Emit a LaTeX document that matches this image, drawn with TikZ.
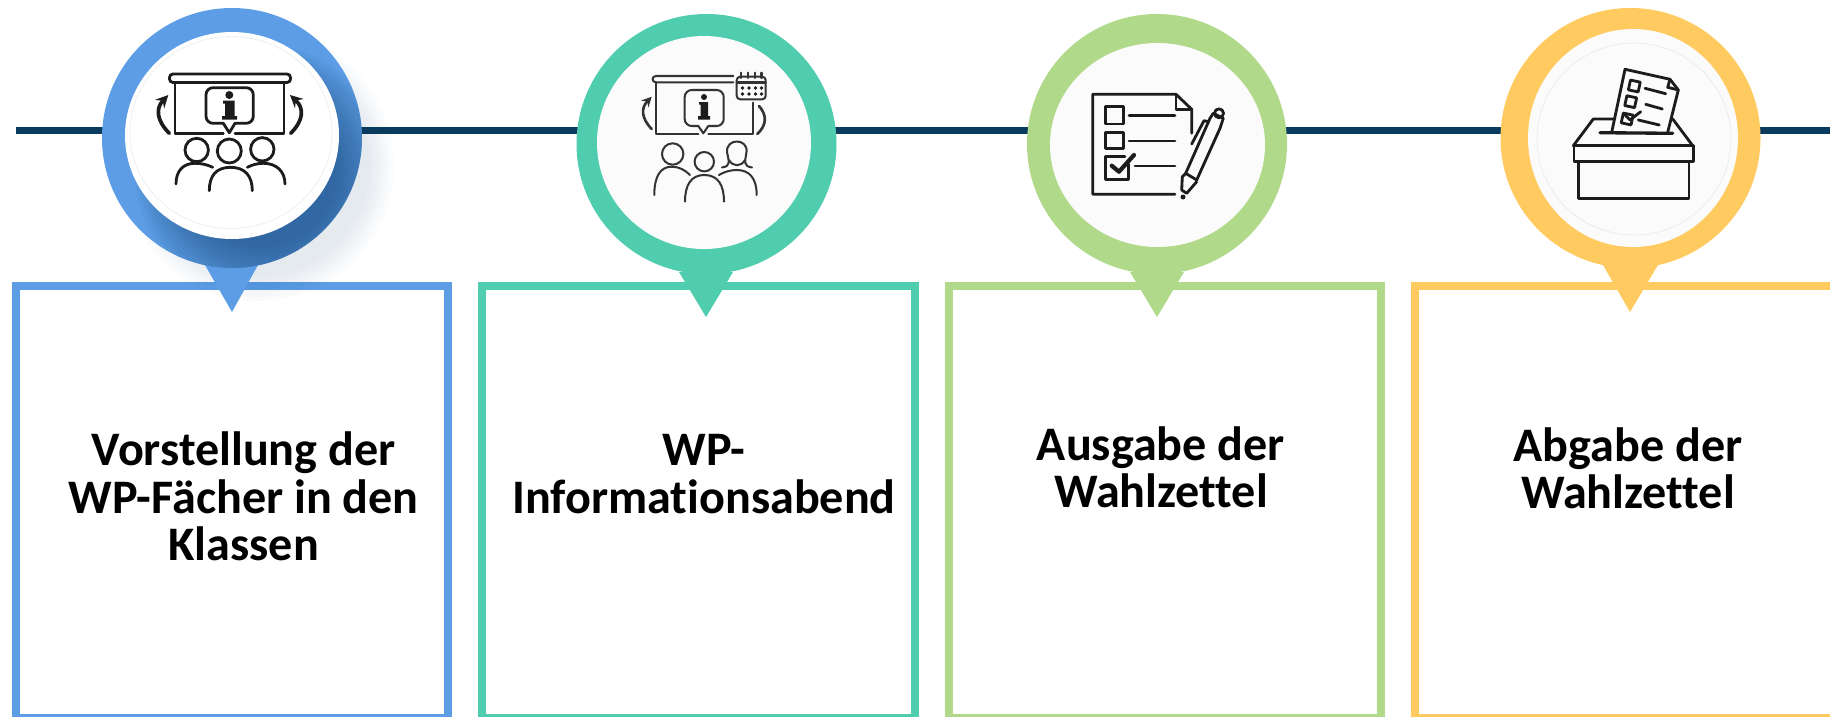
\documentclass[tikz,border=0pt]{standalone}
\usepackage{fontspec}
\setmainfont[Ligatures=NoCommon]{Carlito}
\definecolor{pinblue}{HTML}{5C9DE5}
\definecolor{pinteal}{HTML}{4FCDAE}
\definecolor{pingreen}{HTML}{B1D98A}
\definecolor{pinyellow}{HTML}{FFCB60}
\definecolor{linenavy}{HTML}{0A3A5E}
\definecolor{shadowblue}{HTML}{123F6E}
\definecolor{iconink}{HTML}{1C1C1C}
\definecolor{disc}{HTML}{FBFBFB}

\begin{document}
\begin{tikzpicture}[x=0.02cm,y=-0.02cm,
    framebox/.style={line width=4.5pt,fill=white},
    steplabel/.style={font=\fontsize{27.4}{27}\selectfont\bfseries,align=center,inner sep=0pt,text=black},
    iconline/.style={draw=iconink,line width=1.6pt,line cap=round,line join=round},
    iconthin/.style={draw=iconink!90,line width=1.15pt,line cap=round,line join=round}]
    \clip (0,0) rectangle (1830,717);

    % time line
    \draw[linenavy,line width=4pt] (16,130.5) -- (1830,130.5);

    % boxes
    \draw[framebox,draw=pinblue] (16,286) rectangle (448,718);
    \draw[framebox,draw=pinteal] (482,286) rectangle (915,718);
    \draw[framebox,draw=pingreen] (949,286) rectangle (1381,718);
    \draw[framebox,draw=pinyellow] (1415,286) rectangle (1850,718);

    % soft shadow of the first pin
    \foreach \r in {112,116,...,136}
        \fill[shadowblue,opacity=0.016] (258,165) circle [radius=\r];

    % pins
    \fill[pinblue] (232,138) circle [radius=130];
    \fill[pinblue] (205,265) -- (232,312) -- (258,265) -- cycle;
    \fill[pinteal] (706.5,144) circle [radius=130];
    \fill[pinteal] (679,272) -- (706,317) -- (733,272) -- cycle;
    \fill[pingreen] (1157,144) circle [radius=130];
    \fill[pingreen] (1130,272) -- (1157,317) -- (1184,272) -- cycle;
    \fill[pinyellow] (1630.5,138) circle [radius=130];
    \fill[pinyellow] (1603,265) -- (1630,312) -- (1658,265) -- cycle;

    % shadow inside the first pin
    \begin{scope}
        \clip (232,138) circle [radius=130];
        \foreach \r in {75,79,...,127}
            \fill[shadowblue,opacity=0.05] (262,172) circle [radius=\r];
    \end{scope}

    % discs
    \fill[white] (232,135.5) ellipse [x radius=107,y radius=103.5];
    \draw[black!6,line width=0.5pt] (231,132.5) ellipse [x radius=101,y radius=96];
    \fill[disc] (704,142.5) ellipse [x radius=107,y radius=106.5];
    \fill[disc] (1157.5,145) ellipse [x radius=107.5,y radius=102];
    \fill[disc] (1633,138) ellipse [x radius=105,y radius=109];
    \draw[black!7,line width=0.5pt] (1634,139) ellipse [x radius=97,y radius=96];

    % icon: presentation
    \draw[iconline,rounded corners=2pt] (169.5,74) rectangle (290.5,82.5);
    \draw[iconline] (223.3,133.3) -- (175,133.3) -- (175,82.5);
    \draw[iconline] (235,133.3) -- (284,133.3) -- (284,82.5);
    \draw[iconline,rounded corners=4pt] (223.3,123.3) -- (206,123.3) -- (206,87.7) -- (253.3,87.7) -- (253.3,123.3) -- (235,123.3);
    \draw[iconline] (223.3,123.3) -- (229.3,132.7) -- (235,123.3);
    \fill[iconink] (229.3,95) circle [radius=4];
    \fill[iconink] (223,100.5) -- (234.5,100.5) -- (234.5,116) -- (237,116) -- (237,119.5) -- (222,119.5) -- (222,116) -- (225,116) -- (225,103.5) -- (223,103.5) -- cycle;
    \draw[iconline] (196.7,150) circle [radius=11.7];
    \draw[iconline] (229.3,151) circle [radius=12];
    \draw[iconline] (262.3,149.3) circle [radius=11.7];
    \draw[iconline] (209.3,190.7) .. controls (209.3,176) and (216,167.3) .. (230.5,167.3) .. controls (245,167.3) and (252.3,176) .. (252.3,190.7);
    \draw[iconline] (176,184) .. controls (176,171) and (183,163.3) .. (195,163.3) .. controls (202,163.3) and (208,165) .. (212.7,167.3);
    \draw[iconline] (285,184) .. controls (285,171) and (276,163.3) .. (263.3,163.3) .. controls (257,163.3) and (252,165) .. (247.3,167.3);
    \draw[iconline,line width=2.1pt,->,>=stealth] (169.3,133.3) .. controls (156,120) and (156,108) .. (168.3,95);
    \draw[iconline,line width=2.1pt,->,>=stealth] (290.7,133.3) .. controls (304,120) and (304,108) .. (290,95);

    % icon: evening with calendar
    \draw[iconthin] (733.3,76) -- (656,76) .. controls (651.5,76) and (651.5,82.3) .. (656,82.3) -- (733.3,82.3);
    \draw[iconthin] (698.3,134) -- (655.7,134) -- (655.7,82.3);
    \draw[iconthin] (708.3,134) -- (752.7,134) -- (752.7,102.7);
    \draw[iconthin,rounded corners=4pt] (698.3,126) -- (684.7,126) -- (684.7,90) -- (723.7,90) -- (723.7,126) -- (708.3,126);
    \draw[iconthin] (698.3,126) -- (703.3,133.3) -- (708.3,126);
    \fill[iconink] (704,97) circle [radius=3];
    \fill[iconink] (699,102) -- (708,102) -- (708,116) -- (710,116) -- (710,119.5) -- (698,119.5) -- (698,116) -- (700.5,116) -- (700.5,104.5) -- (699,104.5) -- cycle;
    \draw[iconthin,rounded corners=2pt] (736.7,76.7) rectangle (765.7,99.3);
    \draw[iconthin] (736.7,82.5) -- (765.7,82.5);
    \foreach \x in {741,748,755,761.5}
        \draw[iconthin] (\x,72.7) -- (\x,78);
    \foreach \x in {742.5,749,755.5,761.5}
        \foreach \y in {88,94}
            \fill[iconink] (\x,\y) circle [radius=1.8];
    \draw[iconthin,line width=1.5pt,->,>=stealth] (651.7,129) .. controls (641,118) and (641,108) .. (651.7,96.7);
    \draw[iconthin,line width=1.5pt] (757.3,134) .. controls (767,125) and (767,115) .. (759,106);
    \draw[iconthin] (672.7,154) circle [radius=10.7];
    \draw[iconthin] (704.3,161.7) circle [radius=9.7];
    \draw[iconthin] (722,167.5) .. controls (731,166) and (729,162) .. (727,152) .. controls (726,138) and (748,138) .. (746.5,152) .. controls (745,162) and (743,166) .. (752,167.5);
    \draw[iconthin] (729,160) .. controls (733,167) and (741,167) .. (745,160);
    \draw[iconthin] (654.3,195) .. controls (654.3,177) and (660,166.7) .. (671.7,166.7) .. controls (679,166.7) and (685,170) .. (690,175);
    \draw[iconthin] (685,201.7) .. controls (685,185) and (691,175) .. (704.3,175) .. controls (718,175) and (724,185) .. (724,201.7);
    \draw[iconthin] (756.7,195) .. controls (756.7,179) and (750,170) .. (736.7,170) .. controls (730,170) and (724,172) .. (719,175);

    % icon: checklist and pen
    \draw[iconline] (1175,194.3) -- (1092.7,194.3) -- (1092.7,94.3) -- (1176,94.3) -- (1191.7,109.3) -- (1191.7,133.3);
    \draw[iconline] (1176,94.3) -- (1176,109.3) -- (1191.7,109.3);
    \draw[iconline] (1105.3,106.7) rectangle (1123.3,124);
    \draw[iconline] (1129,115.7) -- (1175,115.7);
    \draw[iconline] (1105.3,132.3) rectangle (1123.3,148.3);
    \draw[iconline] (1129,141) -- (1175,141);
    \draw[iconline] (1125,156.7) -- (1105.3,156.7) -- (1105.3,179.3) -- (1128.3,179.3) -- (1128.3,164);
    \draw[iconline,line width=2.4pt] (1111.7,165.7) -- (1119,171.7) -- (1134,155);
    \draw[iconline] (1135,166) -- (1175,166);
    \draw[iconline] (1185.7,173.3) -- (1210,118.3) -- (1213.3,113.3) -- (1223.3,118.3) -- (1220,128.3) -- (1196.7,180) -- cycle;
    \draw[iconline] (1182.3,176.7) -- (1181.7,190) -- (1186.7,193.3) -- (1196.7,181.7);
    \draw[iconline] (1182.3,176.7) -- (1185.7,173.3);
    \draw[iconline] (1219,113.3) circle [radius=4.5];
    \draw[iconline] (1191.7,144) -- (1204,120.7) -- (1208.3,121.7);
    \fill[iconink] (1183,197) circle [radius=2.5];

    % icon: ballot box
    \draw[iconline] (1611.7,132.3) -- (1625,69.3) -- (1670,79.3) -- (1678.3,90) -- (1667.7,132.3);
    \draw[iconline] (1670,79.3) -- (1667.7,87.3) -- (1678.3,90);
    \draw[iconline] (1573.3,145.7) -- (1593.3,119) -- (1614,119);
    \draw[iconline] (1672.7,119) -- (1692.7,145.7);
    \draw[iconline,line width=1.9pt] (1600,132.7) -- (1672.7,133.3);
    \draw[iconline] (1574,145.7) rectangle (1693.3,161.3);
    \draw[iconline] (1578.3,161.3) -- (1578.3,198.3) -- (1689,198.3) -- (1689,161.3);
    \draw[iconline,rotate around={-12:(1634.3,86)}] (1629.3,81) rectangle (1639.3,91);
    \draw[iconline,rotate around={-12:(1630.7,101.7)}] (1625.7,96.7) rectangle (1635.7,106.7);
    \draw[iconline,rotate around={-12:(1627.3,118.3)}] (1622.3,114) rectangle (1632.3,124);
    \draw[iconline] (1645,88.3) -- (1665.7,93.7);
    \draw[iconline] (1645.7,104.3) -- (1662.3,109);
    \draw[iconline] (1638.3,120) -- (1659.3,125);
    \draw[iconline] (1625,115) -- (1630,120) -- (1640.7,111.7);

    % labels
    \node[steplabel,anchor=base] (vorstellung) at (243.7,560.7) {Vorstellung der\\WP-Fächer in den\\Klassen};
    \node[steplabel,anchor=base] (abend) at (704,513) {WP-\\Informationsabend};
    \node[steplabel,anchor=base] (ausgabe) at (1161,507.7) {Ausgabe der\\Wahlzettel};
    \node[steplabel,anchor=base] (abgabe) at (1628,508.7) {Abgabe der\\Wahlzettel};
\end{tikzpicture}
\end{document}
